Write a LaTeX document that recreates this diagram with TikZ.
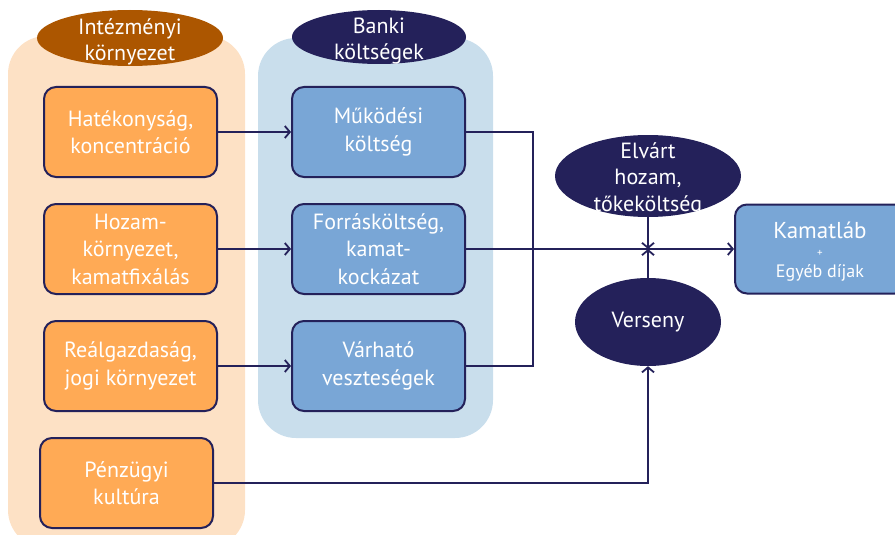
\documentclass[tikz,border=0pt]{standalone}
\usepackage{fontspec}
\setmainfont{PT Sans}
\usetikzlibrary{shapes.geometric,arrows.meta}
\definecolor{navy}{HTML}{24215A}
\definecolor{boxorange}{HTML}{FFAA55}
\definecolor{panelorange}{HTML}{FDE1C5}
\definecolor{hdrorange}{HTML}{AC5600}
\definecolor{boxblue}{HTML}{79A6D6}
\definecolor{panelblue}{HTML}{C9DEEC}
\tikzset{
  basebox/.style={rectangle, rounded corners=12pt, draw=navy, line width=2pt,
    minimum width=173pt, minimum height=90pt, inner sep=0pt, align=center,
    text=white, font=\fontsize{22}{27.5}\selectfont},
  obox/.style={basebox, fill=boxorange},
  bbox/.style={basebox, fill=boxblue},
  ell/.style={ellipse, fill=navy, inner sep=0pt},
  etext/.style={align=center, text=white, inner sep=0pt, font=\fontsize{22}{26.5}\selectfont},
  conn/.style={draw=navy, line width=2pt},
  arr/.style={conn, -{Straight Barb[length=5pt,width=12pt,line width=1.8pt]}}
}
\begin{document}
\begin{tikzpicture}[x=1pt,y=-1pt]
\useasboundingbox (0,0) rectangle (895,535);
% panels
\fill[panelorange, rounded corners=38pt] (8,36) rectangle (245,548);
\fill[panelblue, rounded corners=38pt] (258,38) rectangle (493,438);
% header ellipses
\node[ell, fill=hdrorange, minimum width=186pt, minimum height=56pt] (ie) at (130,38) {};
\node[etext] (iet) at (130,42) {Intézményi\\környezet};
\node[ell, minimum width=174pt, minimum height=54pt] (bk) at (379,37) {};
\node[etext] (bkt) at (379,41) {Banki\\költségek};
% orange boxes
\node[obox] (hat) at (130.5,132) {Hatékonyság,\\koncentráció};
\node[obox] (hoz) at (130.5,249) {Hozam-\\környezet,\\kamatfixálás};
\node[obox] (real) at (130.5,366) {Reálgazdaság,\\jogi környezet};
\node[obox] (penz) at (126.5,483) {Pénzügyi\\kultúra};
% blue boxes
\node[bbox] (mk) at (378.5,132) {Működési\\költség};
\node[bbox] (forr) at (378.5,249) {Forrásköltség,\\kamat-\\kockázat};
\node[bbox] (varh) at (378.5,366) {Várható\\veszteségek};
% right side
\node[ell, minimum width=186pt, minimum height=82pt] (elv) at (648,176) {};
\node[etext] (elvt) at (648,179) {Elvárt\\hozam,\\tőkeköltség};
\node[ell, minimum width=146pt, minimum height=88pt] (vers) at (648,322) {};
\node[etext] (verst) at (648,322) {Verseny};
\node[bbox, minimum width=172pt, minimum height=89pt] (kam) at (821,249) {};
\node[etext, font=\fontsize{23}{24}\selectfont] (kamt1) at (820,230) {Kamatláb};
\node[etext, font=\fontsize{11}{12}\selectfont] (kamt2) at (820,253) {+};
\node[etext, font=\fontsize{18}{20}\selectfont] (kamt3) at (820,273) {Egyéb díjak};
% connectors
\draw[arr] (hat.east) -- (mk.west);
\draw[arr] (hoz.east) -- (forr.west);
\draw[arr] (real.east) -- (varh.west);
\coordinate (br) at (533,132);
\draw[conn] (mk.east) -- (br) |- (varh.east);
\coordinate (j) at (648,249);
\draw[arr] (forr.east) -- (kam.west);
\draw[arr] (elv.south) -- (j);
\draw[arr] (vers.north) -- (j);
\draw[arr] (penz.east) -| (vers.south);
\end{tikzpicture}
\end{document}
